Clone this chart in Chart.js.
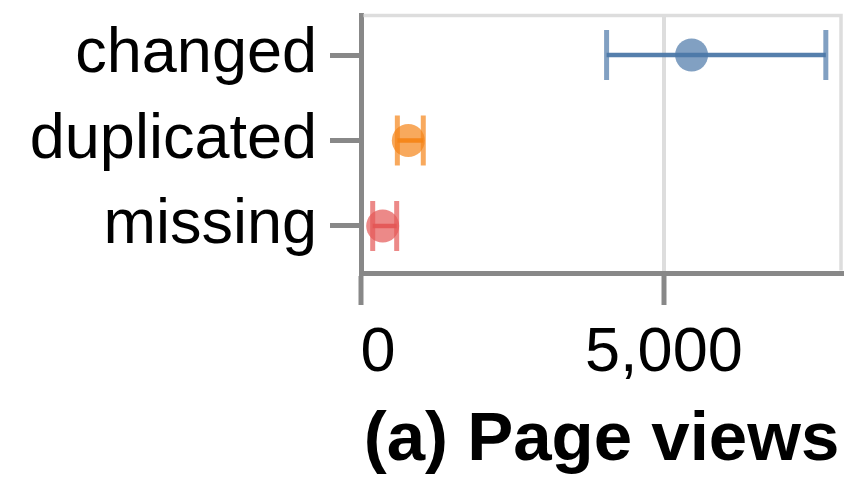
<!DOCTYPE html>
<html>
<head>
<meta charset="utf-8">
<script src="https://cdn.jsdelivr.net/npm/chart.js@4/dist/chart.umd.min.js"></script>
<style>
  html, body { margin: 0; padding: 0; background: #fff; }
  canvas { display: block; }
</style>
</head>
<body>
<canvas id="chart" width="846" height="483"></canvas>
<script>
// data
const categories = ['changed', 'duplicated', 'missing'];
const means  = [5457, 781, 358];
const lowers = [4054, 600, 193];
const uppers = [7673, 1028, 589];
const colors = ['#4c78a8', '#f58518', '#e45756'];
const xTicks = [0, 5000];
const xTitle = '(a) Page views';

const FONT = "'Liberation Sans', Arial, Helvetica, sans-serif";
const AXIS_GRAY = '#888888';
const LIGHT_GRAY = '#dddddd';

function alpha(hex, a) {
  const n = parseInt(hex.slice(1), 16);
  return `rgba(${(n >> 16) & 255},${(n >> 8) & 255},${n & 255},${a})`;
}

// one error bar (line + caps) and one dot for each category
const datasets = [];
categories.forEach((cat, i) => {
  datasets.push({
    label: cat + ' ci',
    data: [{ x: lowers[i], y: i }, { x: uppers[i], y: i }],
    showLine: true,
    borderColor: alpha(colors[i], 0.95),
    borderWidth: 4.5,
    pointStyle: 'line',
    rotation: 90,
    pointRadius: 25,
    pointHoverRadius: 25,
    pointBorderWidth: 5,
    pointBorderColor: alpha(colors[i], 0.7),
    clip: false,
    order: 1
  });
  datasets.push({
    label: cat,
    data: [{ x: means[i], y: i }],
    pointStyle: 'circle',
    pointRadius: 16.5,
    pointHoverRadius: 16.5,
    pointBorderWidth: 0,
    backgroundColor: alpha(colors[i], 0.7),
    clip: false,
    order: 2
  });
});

// light frame on top and right, like the vega view border
const framePlugin = {
  id: 'frame',
  beforeDatasetsDraw(chart) {
    const { ctx, chartArea: a } = chart;
    ctx.save();
    ctx.strokeStyle = LIGHT_GRAY;
    ctx.lineWidth = 3.5;
    ctx.beginPath();
    ctx.moveTo(a.left + 2.5, a.top + 0.5);
    ctx.lineTo(a.right - 1, a.top + 0.5);
    ctx.lineTo(a.right - 1, a.bottom - 2.5);
    ctx.stroke();
    ctx.restore();
  }
};

// x tick labels: first one flush left, others centred
const xLabelPlugin = {
  id: 'xLabels',
  afterDraw(chart) {
    const { ctx } = chart;
    const sx = chart.scales.x;
    ctx.save();
    ctx.fillStyle = '#000';
    ctx.font = `63px ${FONT}`;
    ctx.textBaseline = 'alphabetic';
    xTicks.forEach((v, k) => {
      const px = sx.getPixelForValue(v);
      ctx.textAlign = k === 0 ? 'left' : 'center';
      ctx.fillText(v.toLocaleString('en-US'), k === 0 ? px - 0.5 : px, 371);
    });
    ctx.restore();
  }
};

function noPad(s) {
  s.paddingTop = 0; s.paddingBottom = 0;
  s.paddingLeft = 0; s.paddingRight = 0;
}

new Chart(document.getElementById('chart'), {
  type: 'scatter',
  data: { datasets },
  options: {
    responsive: false,
    animation: false,
    layout: { autoPadding: false, padding: { top: 15, right: 4, left: 0, bottom: 0 } },
    plugins: {
      legend: { display: false },
      tooltip: { enabled: false }
    },
    scales: {
      x: {
        type: 'linear',
        min: 0,
        max: 7940,
        afterBuildTicks: (s) => { s.ticks = xTicks.map(v => ({ value: v })); },
        afterFit: (s) => { s.height = 210; noPad(s); },
        ticks: { display: false },
        grid: {
          color: LIGHT_GRAY,
          lineWidth: 4,
          tickColor: AXIS_GRAY,
          tickWidth: 5,
          tickLength: 32
        },
        border: { display: true, color: AXIS_GRAY, width: 5 },
        title: {
          display: true,
          text: xTitle,
          color: '#000',
          font: { family: FONT, size: 69, weight: 'bold', lineHeight: 1.2 },
          padding: { top: 0, bottom: 1 }
        }
      },
      y: {
        type: 'linear',
        reverse: true,
        min: -0.468,
        max: 2.55,
        afterBuildTicks: (s) => { s.ticks = categories.map((c, i) => ({ value: i })); },
        afterFit: (s) => { s.width = 361; noPad(s); },
        ticks: {
          color: '#000',
          padding: 13,
          font: { family: FONT, size: 63 },
          callback: (v) => categories[v]
        },
        grid: {
          drawOnChartArea: false,
          tickColor: AXIS_GRAY,
          tickWidth: 5,
          tickLength: 31
        },
        border: { display: true, color: AXIS_GRAY, width: 5 }
      }
    }
  },
  plugins: [framePlugin, xLabelPlugin]
});
</script>
</body>
</html>
